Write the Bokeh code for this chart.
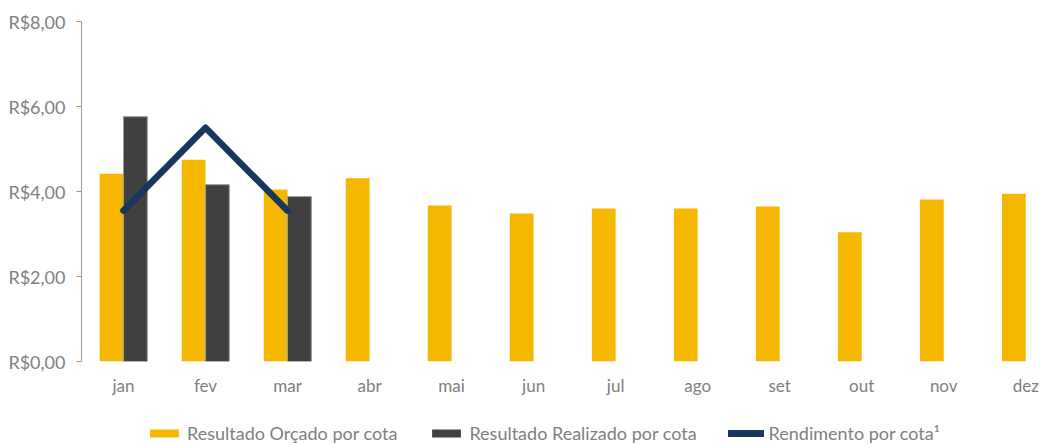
from bokeh.plotting import figure
from bokeh.layouts import column
from bokeh.models import Range1d, FixedTicker, Legend, LegendItem
from bokeh.embed import file_html
from bokeh.resources import INLINE

meses = ["jan", "fev", "mar", "abr", "mai", "jun", "jul", "ago", "set", "out", "nov", "dez"]
orcado = [4.42, 4.75, 4.05, 4.31, 3.67, 3.48, 3.60, 3.60, 3.65, 3.04, 3.81, 3.95]
realizado = [5.76, 4.16, 3.88]
rendimento = [3.55, 5.50, 3.55]
y_ticks = [0, 2, 4, 6, 8]
y_labels = ["R$0,00", "R$2,00", "R$4,00", "R$6,00", "R$8,00"]
serie_nomes = ["Resultado Orçado por cota", "Resultado Realizado por cota", "Rendimento por cota¹"]

FONT = "Lato"
GRAY = "#808080"
ORANGE = "#F5B700"
DARK = "#404040"
NAVY = "#17375E"

p = figure(width=1040, height=399, output_backend="svg", toolbar_location=None,
           x_range=Range1d(-0.512, 11.18), y_range=Range1d(0, 8),
           min_border_left=81, min_border_right=0, min_border_top=21, min_border_bottom=38)
p.outline_line_color = None
p.xgrid.visible = False
p.ygrid.visible = False

bw = 0.29
xo = [i - bw / 2 for i in range(len(orcado))]
xr = [i + bw / 2 for i in range(len(realizado))]
xl = list(range(len(rendimento)))

p.vbar(x=xo, top=orcado, width=bw, fill_color=ORANGE, line_color=None)
p.vbar(x=xr, top=realizado, width=bw, fill_color=DARK, line_color="#9a9a9a", line_width=1)
p.line(x=xl, y=rendimento, line_color=NAVY, line_width=6.5, line_cap="round", line_join="round")

ya = p.yaxis[0]
ya.ticker = FixedTicker(ticks=y_ticks)
ya.major_label_overrides = {t: l for t, l in zip(y_ticks, y_labels)}
ya.minor_tick_line_color = None
ya.major_tick_in = 0
ya.major_tick_out = 5
ya.major_label_standoff = 11
ya.axis_line_color = "#999999"
ya.major_tick_line_color = "#999999"
ya.major_label_text_font = FONT
ya.major_label_text_font_size = "18px"
ya.major_label_text_color = GRAY

xa = p.xaxis[0]
xa.ticker = FixedTicker(ticks=list(range(len(meses))))
xa.major_label_overrides = {i: m for i, m in enumerate(meses)}
xa.minor_tick_line_color = None
xa.major_tick_line_color = None
xa.major_tick_in = 0
xa.major_tick_out = 0
xa.axis_line_color = None
xa.major_label_standoff = 13
xa.major_label_text_font = FONT
xa.major_label_text_font_size = "17px"
xa.major_label_text_color = GRAY

# legend strip below the chart (swatch renderers sit outside its visible range)
p2 = figure(width=1040, height=45, output_backend="svg", toolbar_location=None,
            x_range=Range1d(0, 1), y_range=Range1d(0, 1), x_axis_type=None, y_axis_type=None,
            min_border_left=81, min_border_right=0, min_border_top=0, min_border_bottom=0)
p2.outline_line_color = None
p2.xgrid.visible = False
p2.ygrid.visible = False
g1 = p2.vbar(x=[5], top=[1], width=0.1, fill_color=ORANGE, line_color=None)
g2 = p2.vbar(x=[5], top=[1], width=0.1, fill_color=DARK, line_color=None)
g3 = p2.line(x=[5, 6], y=[1, 1], line_color=NAVY, line_width=7, line_cap="round")

legend = Legend(items=[
    LegendItem(label=serie_nomes[0], renderers=[g1]),
    LegendItem(label=serie_nomes[1], renderers=[g2]),
    LegendItem(label=serie_nomes[2], renderers=[g3]),
], orientation="horizontal", location=(65, 0))
legend.glyph_width = 36
legend.glyph_height = 10
legend.label_height = 10
legend.label_standoff = 5
legend.spacing = 31
legend.padding = 0
legend.margin = 0
legend.border_line_color = None
legend.background_fill_alpha = 0
legend.label_text_font = FONT
legend.label_text_font_size = "18px"
legend.label_text_color = GRAY
p2.add_layout(legend, "center")

open("out.html", "w").write(file_html(column(p, p2, spacing=0), INLINE))
